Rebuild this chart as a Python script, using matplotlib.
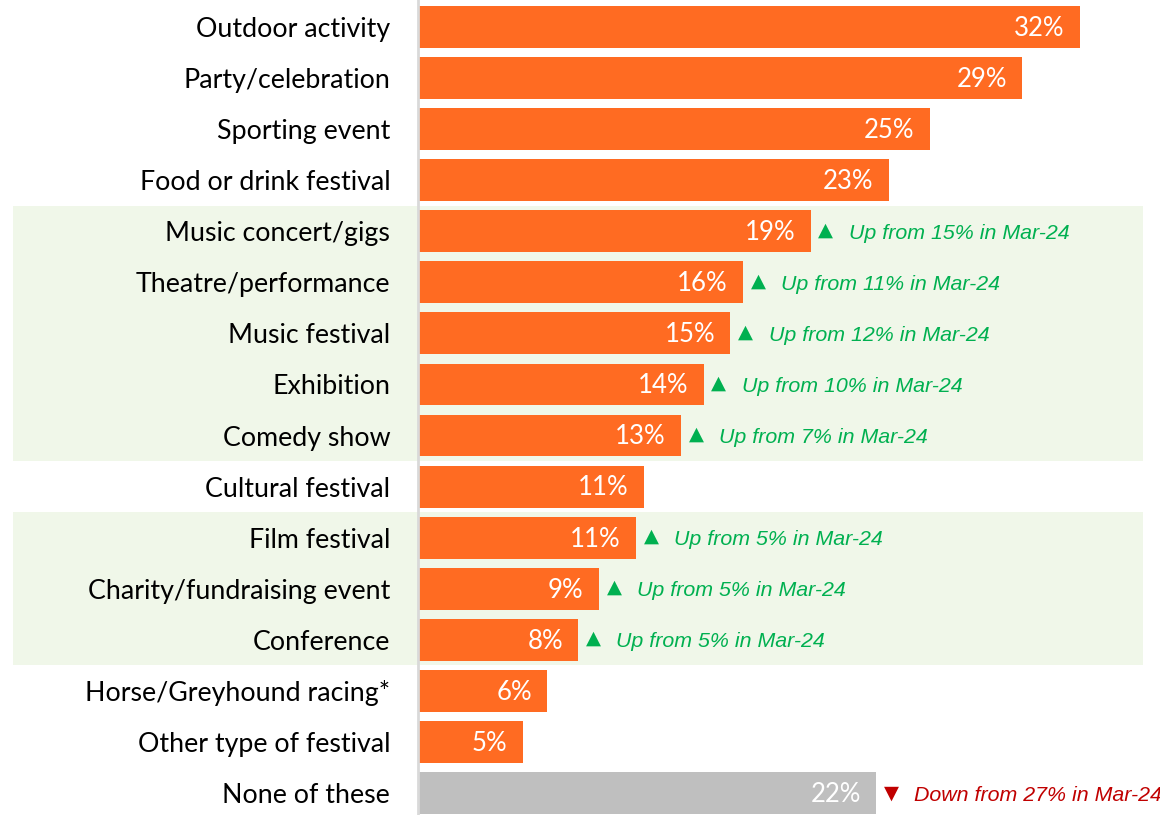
import matplotlib
matplotlib.use("Agg")
import matplotlib.pyplot as plt
from matplotlib.patches import Rectangle
from matplotlib.transforms import blended_transform_factory

categories = ["Outdoor activity", "Party/celebration", "Sporting event", "Food or drink festival",
              "Music concert/gigs", "Theatre/performance", "Music festival", "Exhibition",
              "Comedy show", "Cultural festival", "Film festival", "Charity/fundraising event",
              "Conference", "Horse/Greyhound racing*", "Other type of festival", "None of these"]
values = [32.2, 29.4, 24.9, 22.9, 19.1, 15.8, 15.2, 13.9, 12.8, 11.0, 10.6, 8.8, 7.8, 6.3, 5.1, 22.3]
labels = ["32%", "29%", "25%", "23%", "19%", "16%", "15%", "14%", "13%", "11%", "11%", "9%", "8%", "6%", "5%", "22%"]
previous = [None, None, None, None, 15, 11, 12, 10, 7, None, 5, 5, 5, None, None, 27]
direction = [None, None, None, None, "up", "up", "up", "up", "up", None, "up", "up", "up", None, None, "down"]
highlight_bands = [(4, 8), (10, 12)]

ORANGE = "#FF6B22"
GREY = "#BFBFBF"
BAND = "#F0F7E9"
GREEN = "#00B050"
RED = "#C00000"

fig = plt.figure(figsize=(11.6, 8.15), dpi=100)
W, H = 1160, 815
ax = fig.add_axes([418 / W, 0, 742 / W, 1])
ax.patch.set_visible(False)

n = len(categories)
ypos = list(range(n))
colors = [ORANGE] * (n - 1) + [GREY]
ax.barh(ypos, values, height=0.82, color=colors, zorder=2)

ax.set_xlim(0, 742 / 20.55)
ax.set_ylim(15 + 22 / 51.07, -27 / 51.07)

trans = blended_transform_factory(fig.transFigure, ax.transData)
for a, b in highlight_bands:
    ax.add_patch(Rectangle((13 / W, a - 0.5), (1143 - 13) / W, b - a + 1,
                           transform=trans, facecolor=BAND, edgecolor="none",
                           clip_on=False, zorder=0))

for s in ["top", "right", "bottom"]:
    ax.spines[s].set_visible(False)
ax.spines["left"].set_color("#D9D9D9")
ax.spines["left"].set_linewidth(2)
ax.spines["left"].set_zorder(3)
ax.set_xticks([])
ax.set_yticks(ypos)
ax.set_yticklabels(categories, fontsize=19.3, family="Lato", color="#000000")
ax.tick_params(axis="y", length=0, pad=20)

for i, (v, lab) in enumerate(zip(values, labels)):
    ax.annotate(lab, (v, i), xytext=(-11, -1), textcoords="offset points",
                ha="right", va="center", color="white", fontsize=18.5, family="Lato", zorder=4)
    if direction[i] is not None:
        col = GREEN if direction[i] == "up" else RED
        sym = "▲" if direction[i] == "up" else "▼"
        word = "Up" if direction[i] == "up" else "Down"
        ax.annotate(sym, (v, i), xytext=(11, 1 if direction[i] == "up" else 0), textcoords="offset points",
                    ha="center", va="center", color=col, fontsize=14, family="DejaVu Sans", zorder=4)
        ax.annotate(f"{word} from {previous[i]}% in Mar-24", (v, i), xytext=(27.5, -1.5),
                    textcoords="offset points", ha="left", va="center", color=col,
                    fontsize=15.4, family="Liberation Sans", style="italic", zorder=4)

fig.savefig("out.png", dpi=100)
